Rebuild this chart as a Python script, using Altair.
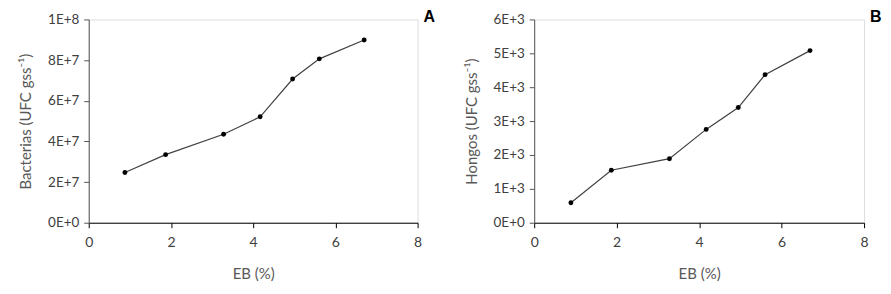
import altair as alt
import pandas as pd

eb_a = [0.88, 1.87, 3.28, 4.17, 4.96, 5.61, 6.70]
bacterias = [2.47e7, 3.35e7, 4.35e7, 5.21e7, 7.07e7, 8.06e7, 8.99e7]
eb_b = [0.89, 1.87, 3.28, 4.17, 4.95, 5.60, 6.69]
hongos = [590, 1550, 1890, 2755, 3400, 4370, 5080]

x_ticks = [0, 2, 4, 6, 8]
a_ticks = [0, 2e7, 4e7, 6e7, 8e7, 1e8]
b_ticks = [0, 1000, 2000, 3000, 4000, 5000, 6000]

df_a = pd.DataFrame({"eb": eb_a, "v": bacterias})
df_b = pd.DataFrame({"eb": eb_b, "v": hongos})

FONT = "Lato"
LBL = "replace(format(datum.value, '.0e'), 'e', 'E')"


def panel(df, ydomain, yticks, ytitle, letter, w):
    x = alt.X(
        "eb:Q",
        scale=alt.Scale(domain=[0, 8], nice=False, zero=True),
        axis=alt.Axis(
            values=x_ticks, title="EB (%)", grid=False, tickSize=5,
            labelPadding=8, titlePadding=17, labelFlush=False,
            domainColor="#000000", tickColor="#000000",
            labelColor="#404040", titleColor="#595959",
            labelFont=FONT, titleFont=FONT, labelFontSize=14, titleFontSize=15,
            titleFontWeight="normal",
        ),
    )
    y = alt.Y(
        "v:Q",
        scale=alt.Scale(domain=ydomain, nice=False),
        axis=alt.Axis(
            values=yticks, title=ytitle, grid=False, tickSize=5,
            labelPadding=5, labelExpr=LBL, titlePadding=13, labelFlush=False,
            domainColor="#555555", tickColor="#555555",
            labelColor="#404040", titleColor="#595959",
            labelFont=FONT, titleFont=FONT, labelFontSize=13.5, titleFontSize=15,
            titleFontWeight="normal", minExtent=42, maxExtent=42,
        ),
    )
    base = alt.Chart(df)
    line = base.mark_line(color="#404040", strokeWidth=1.2).encode(x=x, y=y)
    pts = base.mark_point(filled=True, color="#000000", size=24, opacity=1).encode(x=x, y=y)
    lab = alt.Chart(pd.DataFrame({"t": [letter]})).mark_text(
        fontSize=16, fontWeight="bold", font="Liberation Sans", align="left",
        baseline="alphabetic", color="#000000",
    ).encode(text="t:N", x=alt.value(w + 6), y=alt.value(3))
    return alt.layer(line, pts, lab).properties(width=w, height=204)


pa = panel(df_a, [0, 1e8], a_ticks, "Bacterias (UFC gss⁻¹)", "A", 330)
pb = panel(df_b, [0, 6000], b_ticks, "Hongos (UFC gss⁻¹)", "B", 331)

chart = alt.hconcat(pa, pb, spacing=117, bounds="flush").properties(
    padding={"left": 10, "top": 0, "right": 0, "bottom": 0}
).configure_view(stroke="#7f7f7f", strokeWidth=1).configure(background="white")

chart.save("out.html", embed_options={"renderer": "svg", "actions": False})
